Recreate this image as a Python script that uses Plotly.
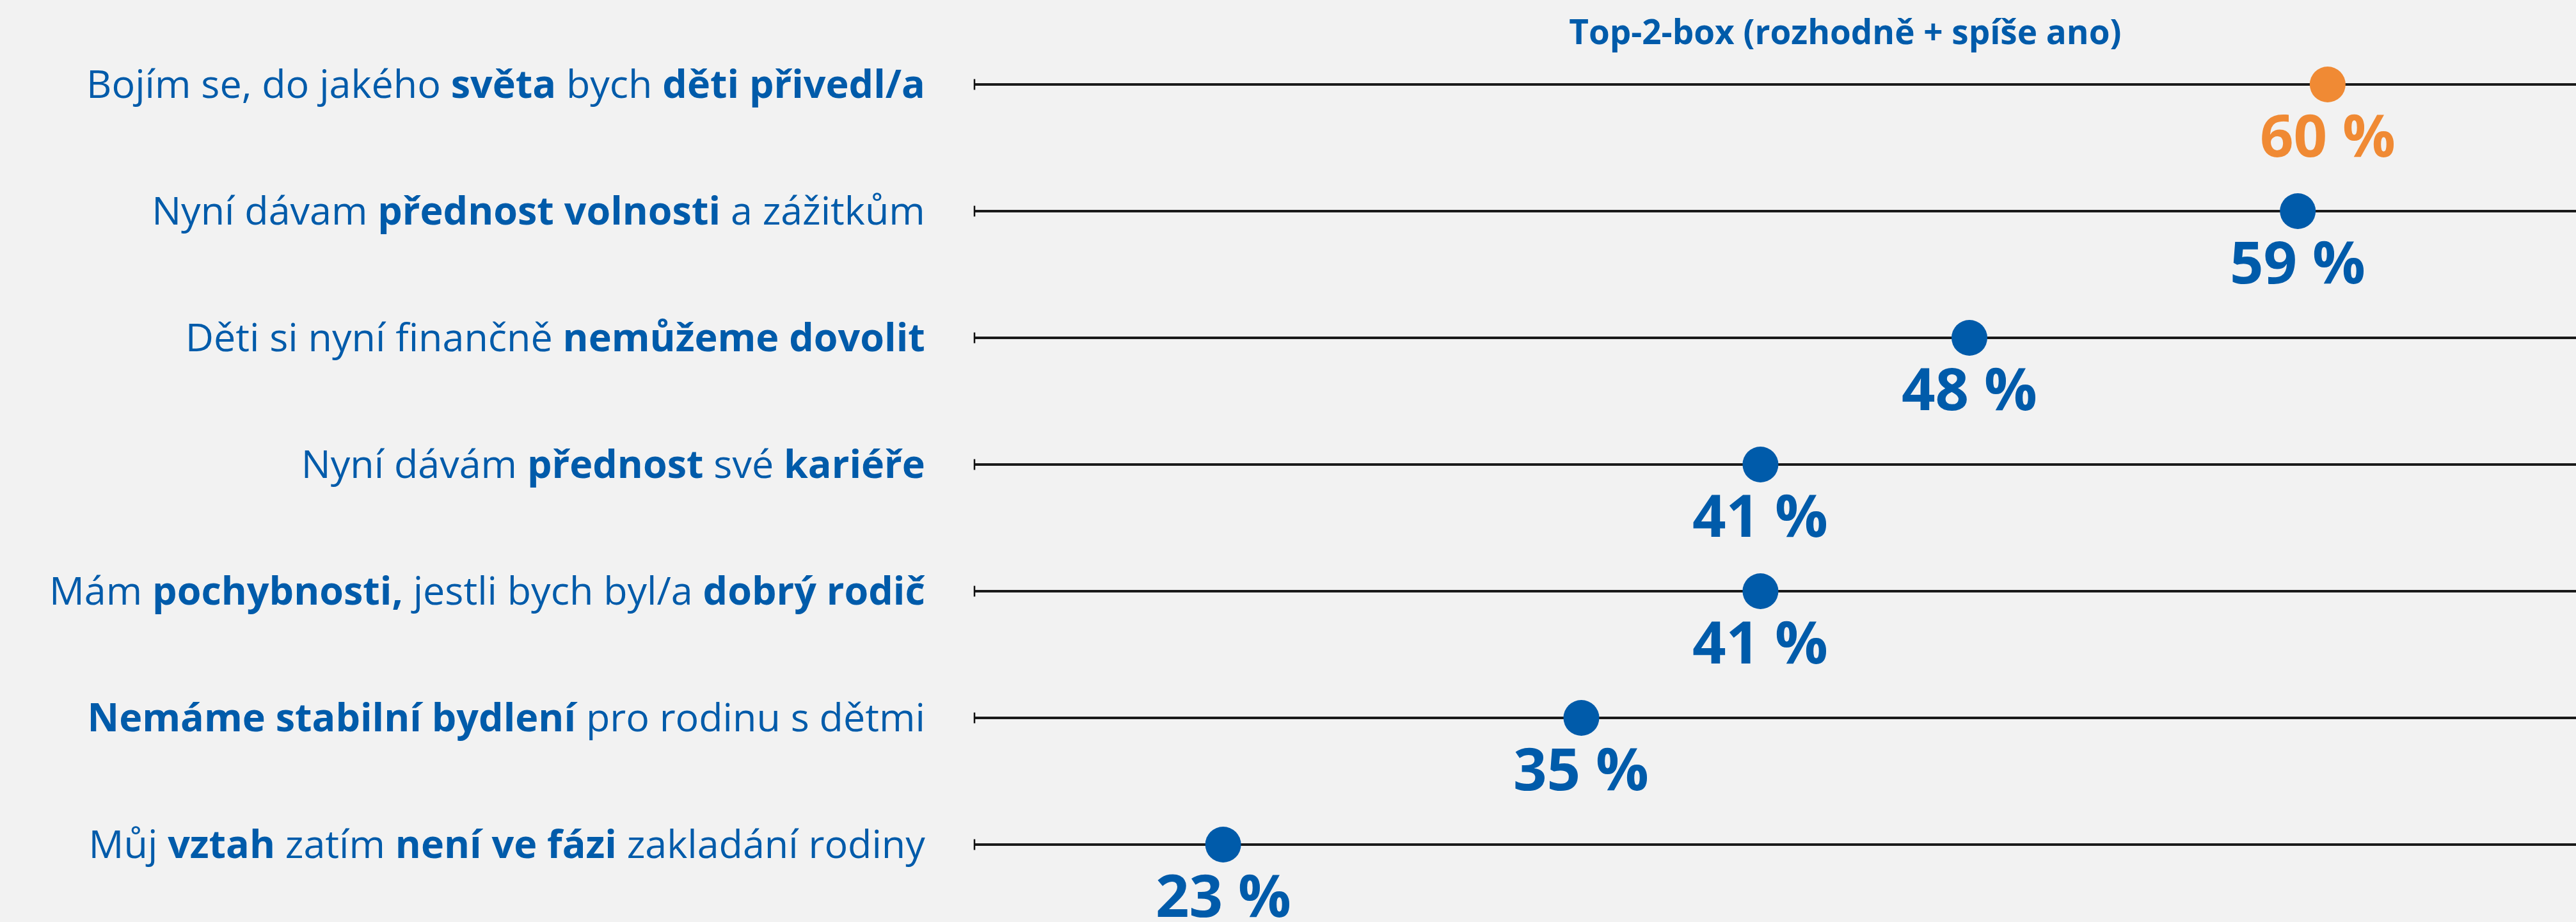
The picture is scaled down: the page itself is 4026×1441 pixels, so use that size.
import plotly.graph_objects as go

# ---- data ----
labels = [
    "Bojím se, do jakého <b>světa</b> bych <b>děti přivedl/a</b>",
    "Nyní dávam <b>přednost volnosti</b> a zážitkům",
    "Děti si nyní finančně <b>nemůžeme dovolit</b>",
    "Nyní dávám <b>přednost</b> své <b>kariéře</b>",
    "Mám <b>pochybnosti,</b> jestli bych byl/a <b>dobrý rodič</b>",
    "<b>Nemáme stabilní bydlení</b> pro rodinu s dětmi",
    "Můj <b>vztah</b> zatím <b>není ve fázi</b> zakladání rodiny",
]
values = [60, 59, 48, 41, 41, 35, 23]
highlight = [True, False, False, False, False, False, False]
title_text = "Top-2-box (rozhodně + spíše ano)"

# ---- style ----
BLUE = "#005BAA"
ORANGE = "#F08A34"
BG = "#F2F2F2"
FONT = "Open Sans"
X_RANGE = [14.67, 68.32]

colors = [ORANGE if h else BLUE for h in highlight]

fig = go.Figure()

# left end caps of the rows
fig.add_trace(go.Scatter(
    x=[X_RANGE[0]] * len(labels), y=labels, mode="markers",
    marker=dict(symbol="line-ns-open", size=12, color="#111111",
                line=dict(width=2.5, color="#111111")),
    hoverinfo="skip", showlegend=False, cliponaxis=False,
))

# dots
fig.add_trace(go.Scatter(
    x=values, y=labels, mode="markers",
    marker=dict(size=56, color=colors, line=dict(width=0)),
    showlegend=False, cliponaxis=False,
))

# value labels
for lab, v, c in zip(labels, values, colors):
    fig.add_annotation(
        x=v, y=lab, text=f"<b>{v} %</b>", showarrow=False,
        xanchor="center", yanchor="middle", yshift=-77,
        font=dict(family=FONT, size=92, color=c),
    )

fig.update_layout(
    width=4026, height=1441,
    paper_bgcolor=BG, plot_bgcolor=BG,
    margin=dict(l=1523, r=0, t=33, b=22),
    font=dict(family=FONT, color=BLUE),
    title=dict(
        text=f"<b>{title_text}</b>", xref="container", yref="container",
        x=0.7163, y=1 - 50 / 1441, xanchor="center", yanchor="middle",
        font=dict(family=FONT, size=53, color=BLUE),
    ),
    xaxis=dict(range=X_RANGE, visible=False, showgrid=False, zeroline=False),
    yaxis=dict(
        type="category", categoryorder="array", categoryarray=labels,
        range=[len(labels) - 0.5, -0.5],
        showgrid=True, gridcolor="#1a1a1a", gridwidth=3.5,
        ticks="outside", ticklen=64, tickcolor="rgba(0,0,0,0)",
        tickfont=dict(family=FONT, size=61, color=BLUE),
        showline=False, zeroline=False, automargin=False,
    ),
)

fig.write_html(
    "out.html",
    config={"displayModeBar": False},
    post_script="document.body.style.margin='0';document.body.style.overflow='hidden';",
)
